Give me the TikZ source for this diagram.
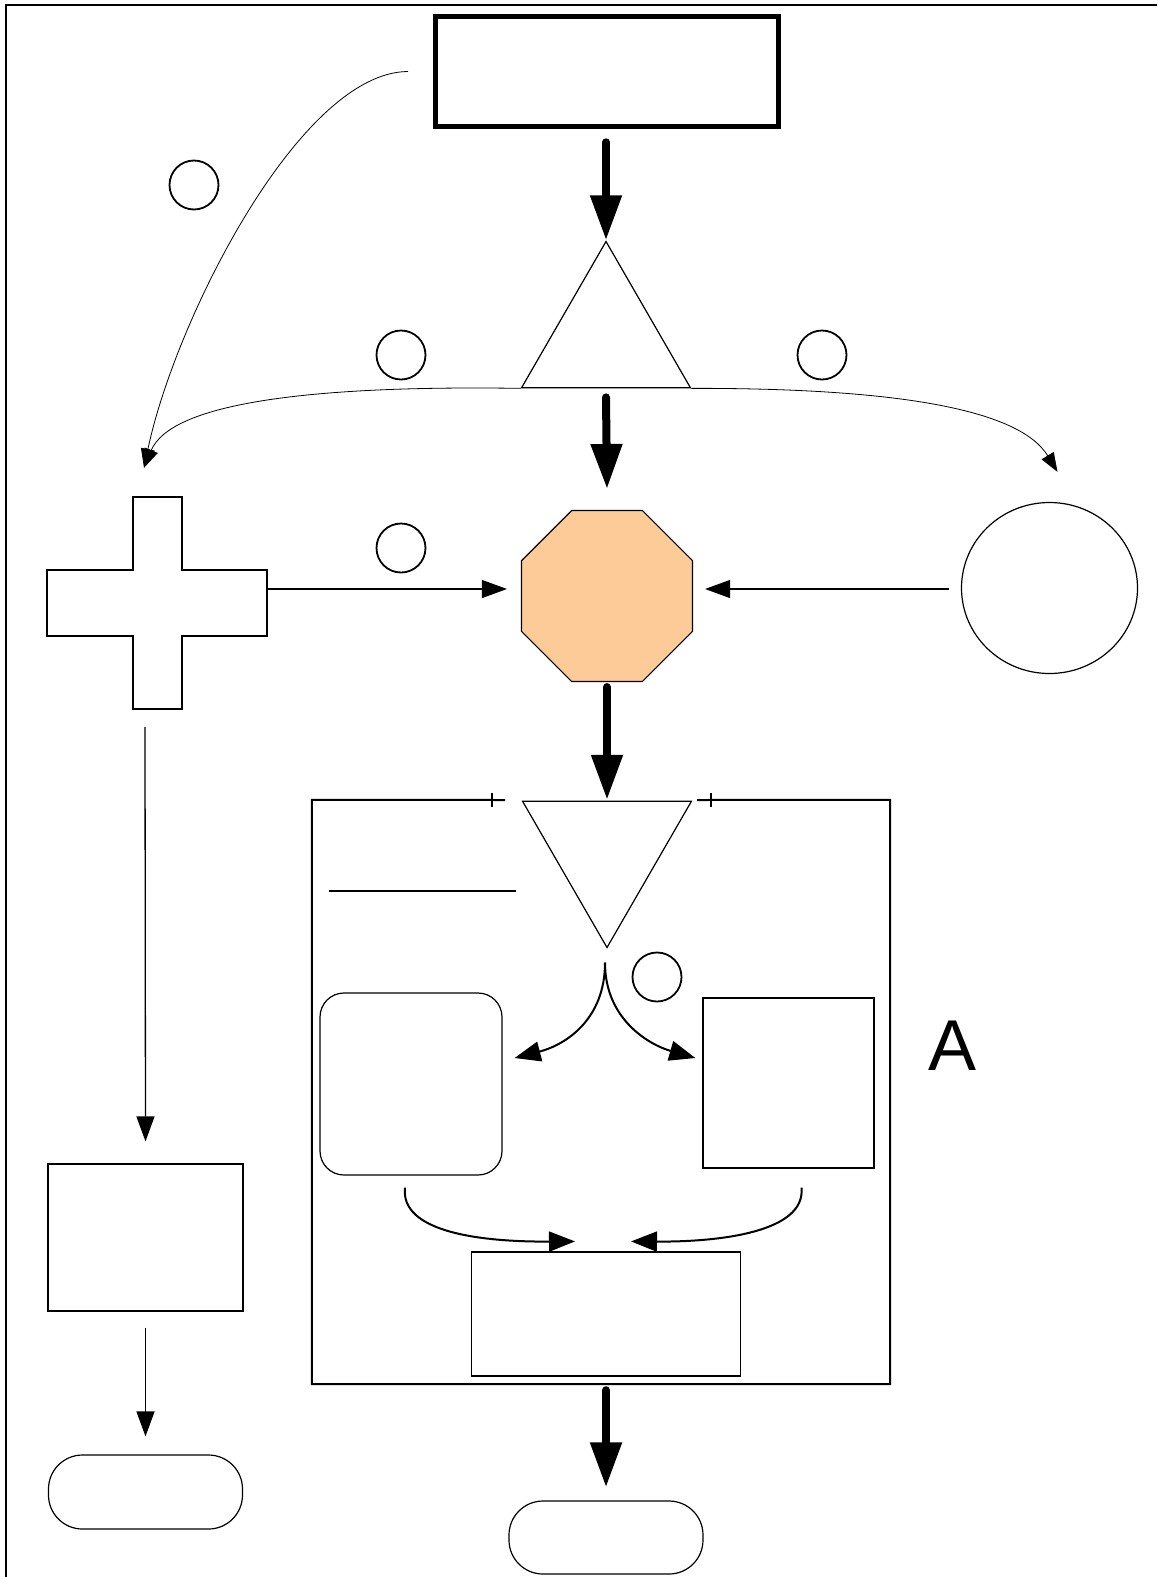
\documentclass[tikz,border=0pt]{standalone}
\usepackage{fontspec}
\setsansfont{Liberation Sans}
\usetikzlibrary{arrows.meta,calc,shapes.geometric}
\definecolor{peach}{RGB}{252,203,152}
\tikzset{
  thickarrow/.style={line width=8pt, line cap=round, -{Triangle[length=45pt,width=30pt]}},
  thinarrow/.style={line width=1.3pt, -{Triangle[length=25pt,width=18pt]}},
  bendarrow/.style={line width=2pt, -{Triangle[length=26pt,width=20pt]}},
  wirearrow/.style={line width=0.8pt, -{Triangle[length=19pt,width=14pt]}},
  tag/.style={circle, draw, line width=1.8pt, minimum size=49pt, inner sep=0pt},
  plain/.style={draw, line width=1.2pt, inner sep=0pt},
}
\begin{document}
\begin{tikzpicture}[x=1pt,y=1pt,yscale=-1,xscale=1]
\useasboundingbox (0,0) rectangle (1157,1577);
%Frame lines
\draw [line width=2pt] (1157,5) -- (6,5) -- (6,1577);
%Shape: Rectangle
\node [plain, line width=5pt, minimum width=343pt, minimum height=110pt] (source) at (607,71.5) {};
%Shape: Triangle
\node [plain, regular polygon, regular polygon sides=3, minimum size=195pt] (split) at (606,339) {};
%Shape: Octagon
\node [plain, regular polygon, regular polygon sides=8, minimum size=185pt, fill=peach] (core) at (607,596) {};
%Shape: Ellipse
\node [plain, ellipse, minimum width=176pt, minimum height=171pt] (pool) at (1049.5,588) {};
%Shape: Cross
\node [minimum width=220pt, minimum height=212pt, inner sep=0pt] (hub) at (157,603) {};
\draw [line width=1.2pt] (133,497) -- (182,497) -- (182,570) -- (267,570) -- (267,636) -- (182,636) -- (182,709) -- (133,709) -- (133,636) -- (47,636) -- (47,570) -- (133,570) -- cycle;
%Shape: Rectangle
\node [plain, minimum width=195pt, minimum height=147pt] (note) at (145.5,1237.5) {};
%Shape: Terminal
\node [plain, rounded corners=34pt, minimum width=194pt, minimum height=74pt] (endA) at (145.5,1492) {};
%Shape: Big box, open at the top
\node [minimum width=578pt, minimum height=584pt, inner sep=0pt] (frame) at (601,1092) {};
\draw [line width=2pt] (505,800) -- (frame.north west) -- (frame.south west) -- (frame.south east) -- (frame.north east) -- (697,800);
\draw [line width=1.5pt] (492,793) -- (492,807);
\draw [line width=1.5pt] (711,793) -- (711,807);
\draw [line width=1.3pt] (329,891) -- (516,891);
%Shape: Triangle down
\node [plain, regular polygon, regular polygon sides=3, shape border rotate=180, minimum size=195pt] (funnel) at (607,850) {};
%Shape: Rounded rectangle
\node [plain, rounded corners=24pt, minimum width=182pt, minimum height=182pt] (left) at (411,1084) {};
%Shape: Rectangle
\node [plain, minimum width=171pt, minimum height=170pt] (right) at (788.5,1083) {};
%Shape: Rectangle
\node [plain, minimum width=269pt, minimum height=124pt] (result) at (606,1314) {};
%Shape: Terminal
\node [plain, rounded corners=34pt, minimum width=194pt, minimum height=73pt] (endB) at (606,1537.5) {};
%Small circles
\node [tag] (t1) at (194,185) {};
\node [tag] (t2) at (401,355) {};
\node [tag] (t3) at (822,355) {};
\node [tag] (t4) at (401,548) {};
\node [tag] (t5) at (657,977) {};
% Text Node
\node [font=\sffamily\fontsize{72pt}{72pt}\selectfont, inner sep=0pt] (boxtag) at (952.5,1046) {A};
%Thick arrows
\draw [thickarrow] ($(split.north)+(0,-98)$) -- (split.north);
\draw [thickarrow] ($(split.south)+(0,9)$) -- ($(core.north)+(0,-21)$);
\draw [thickarrow] ($(core.south)+(0,5)$) -- (core.south |- frame.north);
\coordinate (outB) at (endB.north |- frame.south);
\draw [thickarrow] ($(outB)+(0,6)$) -- ($(endB.north)+(0,-13)$);
%Curve Lines
\coordinate (drop) at ($(hub.north)+(-13,-29)$);
\draw [wirearrow] ($(source.west)+(-25,0)$) .. controls (300,72) and (175,320) .. (drop);
\draw [wirearrow] (split.corner 2) .. controls (300,385) and (170,405) .. (drop);
\draw [wirearrow] (split.corner 3) .. controls (900,388) and (1020,410) .. ($(pool.north)+(8,-30)$);
%Straight arrows
\draw [thinarrow] ($(hub.east)+(0,-14)$) -- ($(core.west)+(-14,-7)$);
\draw [thinarrow] ($(pool.west)+(-12,1)$) -- ($(core.east)+(12,-7)$);
\draw [thinarrow] ($(hub.south)+(-12,18)$) -- ($(note.north)+(0,-22)$);
\draw [thinarrow] ($(note.south)+(0,16)$) -- ($(endA.north)+(0,-18)$);
%Curve Lines inside the box
\coordinate (fork) at ($(funnel.south)+(-2,14)$);
\draw [bendarrow] (fork) .. controls (605,1020) and (565,1045) .. ($(left.east)+(12,-26)$);
\draw [bendarrow] (fork) .. controls (605,1020) and (650,1045) .. ($(right.west)+(-7,-25)$);
\draw [bendarrow] ($(left.south)+(-6,12)$) .. controls (400,1232) and (480,1242) .. ($(result.north)+(-31,-10)$);
\draw [bendarrow] ($(right.south)+(13,19)$) .. controls (806,1232) and (720,1242) .. ($(result.north)+(25,-10)$);
\end{tikzpicture}
\end{document}
